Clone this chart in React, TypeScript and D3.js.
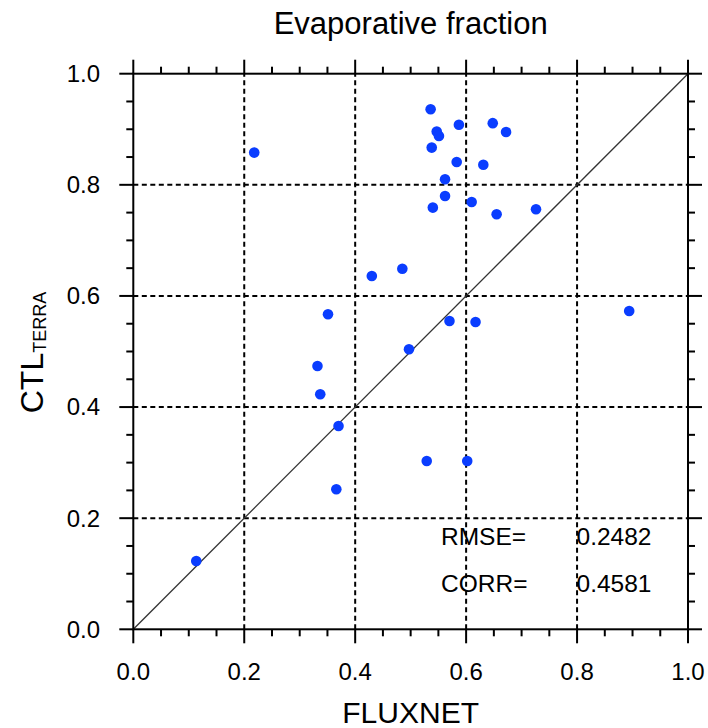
import React from "react";
import * as d3 from "d3";

// FLUXNET observed vs. CTL_TERRA simulated evaporative fraction
const fluxnet = [
  0.536, 0.587, 0.648, 0.672, 0.547, 0.551, 0.538, 0.583, 0.631, 0.562,
  0.562, 0.61, 0.54, 0.655, 0.726, 0.485, 0.894, 0.218, 0.351, 0.332,
  0.337, 0.37, 0.366, 0.1135, 0.57, 0.617, 0.497, 0.529, 0.602, 0.43,
];
const ctlTerra = [
  0.936, 0.908, 0.911, 0.895, 0.896, 0.888, 0.867, 0.841, 0.836, 0.81,
  0.78, 0.769, 0.759, 0.747, 0.756, 0.649, 0.573, 0.858, 0.567, 0.474,
  0.423, 0.366, 0.252, 0.123, 0.555, 0.553, 0.504, 0.303, 0.303, 0.636,
];
const majorTicks = [0, 0.2, 0.4, 0.6, 0.8, 1.0];
const gridTicks = [0.2, 0.4, 0.6, 0.8];
const statLabels = ["RMSE=", "CORR="];
const statValues = ["0.2482", "0.4581"];

const W = 708;
const H = 728;
const left = 133.3;
const right = 688;
const top = 73.7;
const bottom = 629.3;
const font = "'Liberation Sans', Arial, Helvetica, sans-serif";

export default function App() {
  const x = d3.scaleLinear().domain([0, 1]).range([left, right]);
  const y = d3.scaleLinear().domain([0, 1]).range([bottom, top]);
  const minorTicks = d3.range(0, 1.0001, 0.05).filter((v) => Math.abs(v * 5 - Math.round(v * 5)) > 1e-6);
  const fmt = d3.format(".1f");
  const majLen = 14;
  const minLen = 7;

  return (
    <div>
      <style>{"body{margin:0}"}</style>
      <svg width={W} height={H} style={{ display: "block", background: "#fff" }} fontFamily={font}>
        {/* grid */}
        {gridTicks.map((t) => (
          <g key={"g" + t} stroke="#000" strokeWidth={2} strokeDasharray="5,3.5">
            <line x1={x(t)} x2={x(t)} y1={y(0)} y2={y(1)} />
            <line x1={x(0)} x2={x(1)} y1={y(t)} y2={y(t)} />
          </g>
        ))}
        {/* 1:1 line */}
        <line x1={x(0)} y1={y(0)} x2={x(1)} y2={y(1)} stroke="#333" strokeWidth={1.3} />

        {/* points */}
        {fluxnet.map((v, i) => (
          <circle key={i} cx={x(v)} cy={y(ctlTerra[i])} r={5.3} fill="#0a3dff" />
        ))}

        {/* frame */}
        <rect x={left} y={top} width={right - left} height={bottom - top} fill="none" stroke="#000" strokeWidth={2} />

        {/* ticks */}
        <g stroke="#000" strokeWidth={2}>
          {majorTicks.map((t) => (
            <g key={"M" + t}>
              <line x1={x(t)} x2={x(t)} y1={bottom} y2={bottom + majLen} />
              <line x1={x(t)} x2={x(t)} y1={top} y2={top - majLen} />
              <line x1={left} x2={left - majLen} y1={y(t)} y2={y(t)} />
              <line x1={right} x2={right + majLen} y1={y(t)} y2={y(t)} />
            </g>
          ))}
          {minorTicks.map((t) => (
            <g key={"m" + t}>
              <line x1={x(t)} x2={x(t)} y1={bottom} y2={bottom + minLen} />
              <line x1={x(t)} x2={x(t)} y1={top} y2={top - minLen} />
              <line x1={left} x2={left - minLen} y1={y(t)} y2={y(t)} />
              <line x1={right} x2={right + minLen} y1={y(t)} y2={y(t)} />
            </g>
          ))}
        </g>

        {/* tick labels */}
        <g fontSize={24} fill="#000">
          {majorTicks.map((t) => (
            <text key={"xl" + t} x={x(t)} y={680} textAnchor="middle">
              {fmt(t)}
            </text>
          ))}
          {majorTicks.map((t) => (
            <text key={"yl" + t} x={100} y={y(t)} dy="0.35em" textAnchor="end">
              {fmt(t)}
            </text>
          ))}
        </g>

        {/* stats */}
        <g fontSize={24.5} fill="#000">
          {statLabels.map((s, i) => (
            <g key={s}>
              <text x={441} y={545 + i * 46.7}>{s}</text>
              <text x={576.5} y={545 + i * 46.7}>{statValues[i]}</text>
            </g>
          ))}
        </g>

        {/* title & axis labels */}
        <text x={(left + right) / 2} y={34} textAnchor="middle" fontSize={31} fill="#000">
          Evaporative fraction
        </text>
        <text x={(left + right) / 2} y={723} textAnchor="middle" fontSize={30} fill="#000">
          FLUXNET
        </text>
        <text transform={`translate(43,${(top + bottom) / 2 + 1}) rotate(-90)`} textAnchor="middle" fontSize={32} fill="#000">
          CTL
          <tspan fontSize={18} dy={2.5}>TERRA</tspan>
        </text>
      </svg>
    </div>
  );
}
